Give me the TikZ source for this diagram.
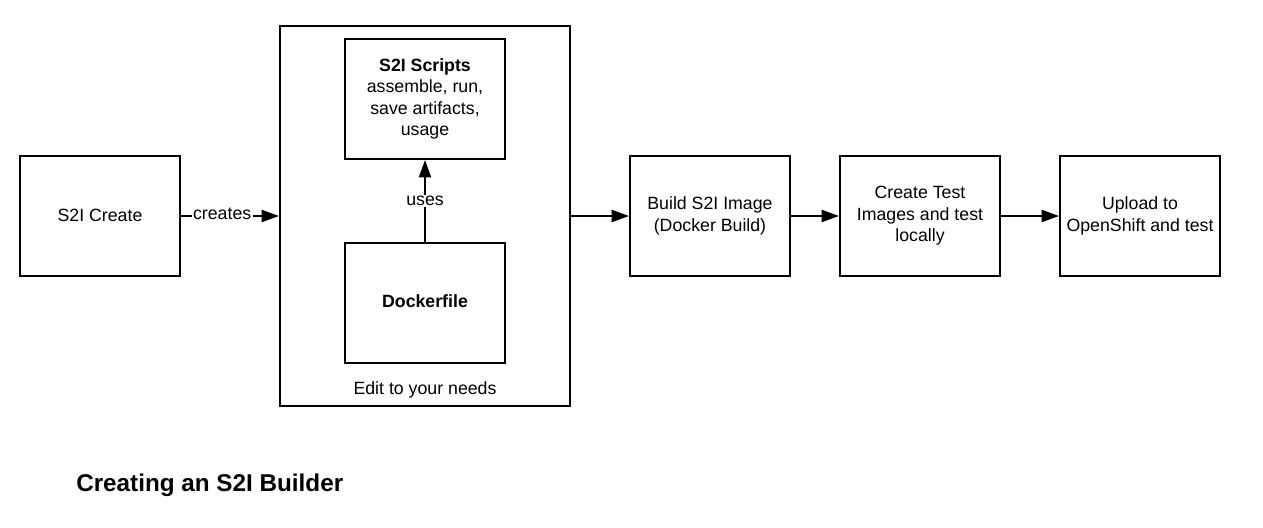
\documentclass[tikz,border=0pt]{standalone}
\usepackage{fontspec}
\setmainfont{Liberation Sans}
\usetikzlibrary{arrows.meta}
\begin{document}
\begin{tikzpicture}[x=0.75pt,y=-0.75pt,
  box/.style={draw,line width=1.5pt,minimum width=160*0.75pt,minimum height=120*0.75pt,inner sep=0pt,align=center,font=\fontsize{13.3}{16.2}\selectfont},
  conn/.style={line width=1.5pt,-{Triangle[length=13pt,width=9pt]}},
  lbl/.style={fill=white,inner sep=1pt,font=\fontsize{13.3}{16.2}\selectfont}]
\useasboundingbox (0,0) rectangle (1263,528);
\node[draw,line width=1.5pt,minimum width=290*0.75pt,minimum height=380*0.75pt,inner sep=0pt] (outer) at (425,216) {};
\node[box] (create) at (100,216) {\raisebox{0.8pt}{S2I Create}};
\node[box] (scripts) at (425,99) {\textbf{S2I Scripts}\\assemble, run,\\save artifacts,\\usage};
\node[box] (docker) at (425,303) {\raisebox{2.2pt}{\textbf{Dockerfile}}};
\node[font=\fontsize{13.3}{16.2}\selectfont] (edit) at (425,390) {Edit to your needs};
\node[box] (build) at (710,216) {Build S2I Image\\(Docker Build)};
\node[box] (test) at (920,216) {Create Test\\Images and test\\locally};
\node[box] (upload) at (1140,216) {Upload to\\OpenShift and test};
\node[font=\bfseries\fontsize{18.2}{22}\selectfont,anchor=west,inner sep=0pt] (title) at (76,485) {Creating an S2I Builder};
\draw[conn] (create) -- node[lbl,pos=0.42,yshift=1.5pt] {creates} (outer.west |- create);
\draw[conn] (docker) -- node[lbl] {uses} (scripts);
\draw[conn] (outer.east |- build) -- (build);
\draw[conn] (build) -- (test);
\draw[conn] (test) -- (upload);
\end{tikzpicture}
\end{document}
